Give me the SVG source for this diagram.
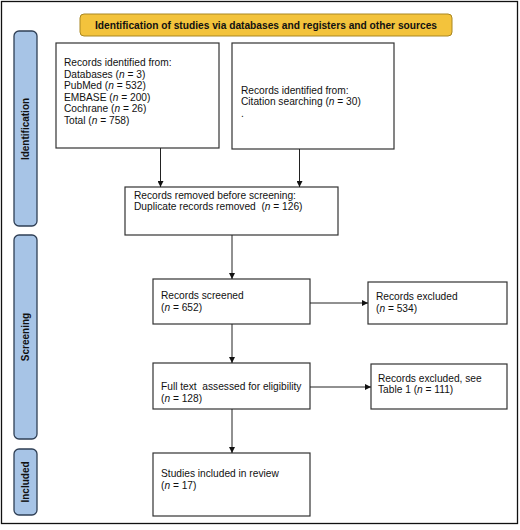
<svg xmlns="http://www.w3.org/2000/svg" width="520" height="530" viewBox="0 0 520 530">
<defs>
<style>
text{font-family:"Liberation Sans",Arial,sans-serif;font-size:10.2px;fill:#111}
.box{fill:#fff;stroke:#333;stroke-width:1.2}
.side{fill:#a7c4e6;stroke:#2f3f55;stroke-width:1.3}
.sidet{font-weight:bold;font-size:10px;text-anchor:middle}
.hdr{fill:#f3c33c;stroke:#a98722;stroke-width:1}
.conn line{stroke:#222;stroke-width:1}
</style>
<marker id="ah" viewBox="0 0 10 10" refX="10" refY="5" markerWidth="6" markerHeight="6" orient="auto" markerUnits="userSpaceOnUse">
<path d="M0,0 L10,5 L0,10 z" fill="#111"/>
</marker>
</defs>
<rect x="0" y="0" width="520" height="530" fill="#fff"/>
<rect x="1.5" y="1.5" width="516" height="522" fill="none" stroke="#111" stroke-width="1.3"/>

<g id="header">
<rect class="hdr" x="80" y="14" width="372" height="22" rx="4"/>
<text x="266" y="28.5" text-anchor="middle" font-weight="bold" font-size="9.8">Identification of studies via databases and registers and other sources</text>
</g>

<g id="side-identification">
<rect class="side" x="14" y="31" width="23" height="195" rx="5"/>
<text class="sidet" transform="translate(29,129) rotate(-90)">Identification</text>
</g>
<g id="side-screening">
<rect class="side" x="14" y="235" width="23" height="204" rx="5"/>
<text class="sidet" transform="translate(29,337) rotate(-90)">Screening</text>
</g>
<g id="side-included">
<rect class="side" x="14" y="449" width="23" height="66" rx="5"/>
<text class="sidet" transform="translate(29,482) rotate(-90)">Included</text>
</g>

<g id="n-databases">
<rect class="box" x="56" y="43" width="163" height="105"/>
<text x="64" y="66">Records identified from:</text>
<text x="64" y="77.8">Databases (<tspan font-style="italic">n</tspan> = 3)</text>
<text x="64" y="89.2">PubMed (<tspan font-style="italic">n</tspan> = 532)</text>
<text x="64" y="100.6">EMBASE (<tspan font-style="italic">n</tspan> = 200)</text>
<text x="64" y="112">Cochrane (<tspan font-style="italic">n</tspan> = 26)</text>
<text x="64" y="123.5">Total (<tspan font-style="italic">n</tspan> = 758)</text>
</g>

<g id="n-citation">
<rect class="box" x="232" y="43" width="162" height="106"/>
<text x="241" y="93.5">Records identified from:</text>
<text x="241" y="105">Citation searching (<tspan font-style="italic">n</tspan> = 30)</text>
<text x="241" y="117">.</text>
</g>

<g id="n-removed">
<rect class="box" x="125" y="187" width="213" height="48"/>
<text x="134" y="198.5">Records removed before screening:</text>
<text x="134" y="210" xml:space="preserve">Duplicate records removed  (<tspan font-style="italic">n</tspan> = 126)</text>
</g>

<g id="n-screened">
<rect class="box" x="153" y="279" width="157" height="45"/>
<text x="161" y="299">Records screened</text>
<text x="161" y="311">(<tspan font-style="italic">n</tspan> = 652)</text>
</g>

<g id="n-excluded">
<rect class="box" x="368" y="282" width="139" height="42"/>
<text x="376" y="300">Records excluded</text>
<text x="376" y="312">(<tspan font-style="italic">n</tspan> = 534)</text>
</g>

<g id="n-fulltext">
<rect class="box" x="153" y="363" width="157" height="46"/>
<text x="161" y="389.5" xml:space="preserve">Full text  assessed for eligibility</text>
<text x="161" y="401.5">(<tspan font-style="italic">n</tspan> = 128)</text>
</g>

<g id="n-excluded2">
<rect class="box" x="371" y="364" width="136" height="45"/>
<text x="378" y="381.5">Records excluded, see</text>
<text x="378" y="393">Table 1 (<tspan font-style="italic">n</tspan> = 111)</text>
</g>

<g id="n-included">
<rect class="box" x="153" y="453" width="157" height="63"/>
<text x="161" y="476.5">Studies included in review</text>
<text x="161" y="488.5">(<tspan font-style="italic">n</tspan> = 17)</text>
</g>

<g id="connectors" class="conn">
<line x1="160.5" y1="148" x2="160.5" y2="187" marker-end="url(#ah)"/>
<line x1="299.5" y1="149" x2="299.5" y2="187" marker-end="url(#ah)"/>
<line x1="232" y1="235" x2="232" y2="279" marker-end="url(#ah)"/>
<line x1="310" y1="303" x2="368" y2="303" marker-end="url(#ah)"/>
<line x1="232" y1="324" x2="232" y2="363" marker-end="url(#ah)"/>
<line x1="310" y1="387" x2="371" y2="387" marker-end="url(#ah)"/>
<line x1="232" y1="409" x2="232" y2="453" marker-end="url(#ah)"/>
</g>
</svg>
